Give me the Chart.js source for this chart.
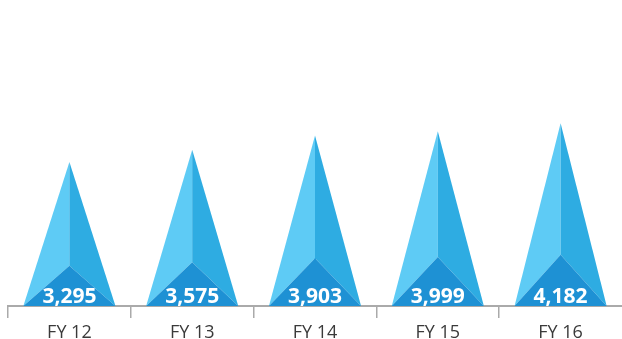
<!DOCTYPE html>
<html>
<head>
<meta charset="utf-8">
<script src="https://cdn.jsdelivr.net/npm/chart.js@4/dist/chart.umd.min.js"></script>
<style>
  html, body { margin: 0; padding: 0; background: #fff; }
  #wrap { width: 622px; height: 339px; }
</style>
</head>
<body>
<div id="wrap"><canvas id="chart"></canvas></div>
<script>
// Ricavi per anno fiscale, disegnati come piramidi a tre facce
const categories = ["FY 12", "FY 13", "FY 14", "FY 15", "FY 16"];
const revenue = [3295, 3575, 3903, 3999, 4182];

const FACE_LEFT = "#5ecbf5";
const FACE_RIGHT = "#2eace2";
const FACE_BASE = "#1e91d4";
const CORE_RATIO = 0.28; // altezza del vertice interno rispetto alla piramide

const pyramidPlugin = {
  id: "pyramids",
  afterDatasetsDraw(chart) {
    const ctx = chart.ctx;
    const meta = chart.getDatasetMeta(0);
    meta.data.forEach((bar, i) => {
      const { x, y, base, width } = bar.getProps(["x", "y", "base", "width"], true);
      const l = x - width / 2, r = x + width / 2;
      const core = base - (base - y) * CORE_RATIO;
      const face = (pts, color) => {
        ctx.beginPath();
        ctx.moveTo(pts[0][0], pts[0][1]);
        pts.slice(1).forEach(p => ctx.lineTo(p[0], p[1]));
        ctx.closePath();
        ctx.fillStyle = color;
        ctx.fill();
      };
      ctx.save();
      face([[x, y], [l, base], [x, core]], FACE_LEFT);
      face([[x, y], [x, core], [r, base]], FACE_RIGHT);
      face([[l, base], [x, core], [r, base]], FACE_BASE);

      ctx.fillStyle = "#fff";
      ctx.font = "bold 21px 'Open Sans', sans-serif";
      ctx.textAlign = "center";
      ctx.textBaseline = "alphabetic";
      ctx.fillText(revenue[i].toLocaleString("en-US"), x, base - 3);
      ctx.restore();
    });
  },
};

new Chart(document.getElementById("chart"), {
  type: "bar",
  data: {
    labels: categories,
    datasets: [{
      data: revenue,
      backgroundColor: "rgba(0,0,0,0)",
      categoryPercentage: 1,
      barPercentage: 0.75,
    }],
  },
  options: {
    responsive: true,
    maintainAspectRatio: false,
    animation: false,
    layout: { padding: { left: 8, right: 0, top: 0, bottom: 0 } },
    plugins: { legend: { display: false }, tooltip: { enabled: false } },
    scales: {
      x: {
        afterFit(scale) { scale.height = 33; },
        grid: {
          offset: true,
          drawOnChartArea: false,
          tickLength: 12,
          // l'ultima tacca cade sul bordo destro: non si vede
          color: (c) => c.type === "tick" ? "#aaaaaa" : "rgba(0,0,0,0)",
          lineWidth: 1.5,
        },
        border: { color: "#aaaaaa", width: 2 },
        ticks: {
          color: "#3a3a3a",
          padding: 4,
          font: { family: "'Open Sans', sans-serif", size: 18 },
        },
      },
      y: { display: false, min: 0, max: 7000 },
    },
  },
  plugins: [pyramidPlugin],
});
</script>
</body>
</html>
